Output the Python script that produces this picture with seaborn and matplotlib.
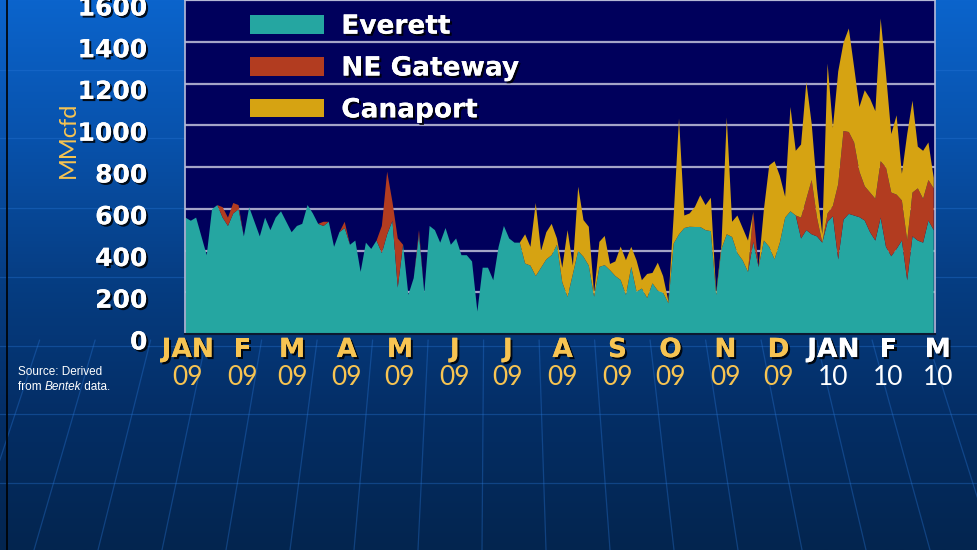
import numpy as np
import pandas as pd
import seaborn as sns
import matplotlib.pyplot as plt
import matplotlib.patheffects as pe
from matplotlib.colors import LinearSegmentedColormap
from matplotlib.transforms import ScaledTranslation, blended_transform_factory

# daily LNG sendout (MMcfd), read every 3 days from 1 Jan 2009
everett = [
    560, 545, 560, 470, 380, 600, 620, 560, 520, 580,
    600, 470, 610, 540, 470, 560, 500, 560, 590, 540,
    490, 520, 530, 620, 580, 530, 520, 540, 420, 490,
    510, 430, 450, 300, 440, 410, 450, 390, 480, 545,
    225, 430, 190, 270, 480, 200, 520, 500, 440, 510,
    430, 460, 380, 380, 350, 110, 320, 320, 260, 420,
    520, 460, 440, 440, 340, 330, 280, 320, 360, 380,
    430, 250, 180, 290, 400, 372, 330, 181, 324, 332,
    308, 280, 261, 190, 324, 205, 220, 175, 245, 210,
    200, 150, 436, 480, 510, 516, 515, 515, 500, 495,
    190, 410, 480, 467, 390, 355, 300, 443, 323, 450,
    420, 360, 440, 560, 590, 570, 460, 500, 480, 470,
    440, 540, 566, 360, 550, 578, 570, 562, 546, 490,
    450, 560, 420, 375, 410, 450, 260, 470, 450, 440,
    546, 500,
]
ne_gateway = [
    0, 0, 0, 0, 0, 0, 0, 50, 40, 50,
    20, 0, 0, 0, 0, 0, 0, 0, 0, 0,
    0, 0, 0, 0, 0, 0, 20, 0, 0, 0,
    30, 0, 0, 0, 0, 0, 0, 130, 300, 90,
    235, 0, 0, 0, 20, 0, 0, 0, 0, 0,
    0, 0, 0, 0, 0, 0, 0, 0, 0, 0,
    0, 0, 0, 0, 0, 0, 0, 0, 0, 0,
    0, 0, 0, 0, 0, 0, 0, 0, 0, 0,
    0, 0, 0, 0, 0, 0, 0, 0, 0, 0,
    0, 0, 0, 0, 0, 0, 0, 0, 0, 0,
    0, 0, 0, 0, 0, 0, 0, 144, 0, 0,
    0, 0, 0, 0, 0, 0, 100, 150, 260, 90,
    0, 40, 50, 360, 425, 392, 350, 218, 164, 190,
    200, 270, 380, 305, 260, 192, 190, 210, 250, 210,
    194, 200,
]
canaport = [
    0, 0, 0, 0, 0, 0, 0, 0, 0, 0,
    0, 0, 0, 0, 0, 0, 0, 0, 0, 0,
    0, 0, 0, 0, 0, 0, 0, 0, 0, 0,
    0, 0, 0, 0, 0, 0, 0, 0, 0, 0,
    0, 0, 0, 0, 0, 0, 0, 0, 0, 0,
    0, 0, 0, 0, 0, 0, 0, 0, 0, 0,
    0, 0, 0, 0, 140, 90, 350, 80, 130, 150,
    30, 70, 320, 40, 308, 176, 186, 16, 120, 140,
    30, 70, 160, 166, 96, 150, 40, 115, 50, 134,
    80, 10, 136, 555, 60, 64, 96, 152, 120, 160,
    10, 20, 560, 73, 180, 155, 150, 0, 0, 150,
    390, 470, 320, 100, 500, 310, 350, 560, 270, 140,
    40, 718, 374, 540, 423, 496, 360, 310, 460, 450,
    420, 684, 450, 280, 380, 128, 510, 440, 200, 230,
    180, 50,
]
series_names = ["Everett", "NE Gateway", "Canaport"]
month_letters = ["JAN", "F", "M", "A", "M", "J", "J", "A", "S", "O", "N", "D", "JAN", "F", "M"]
year_labels = ["09"] * 12 + ["10"] * 3
y_ticks = [0, 200, 400, 600, 800, 1000, 1200, 1400, 1600]

dates = pd.date_range("2009-01-01", periods=len(everett), freq="3D")
month_starts = pd.date_range("2009-01-01", "2010-03-01", freq="MS")

colors = ["#25a6a1", "#b23c20", "#d6a312"]
gold_txt = "#f7c452"

sns.set_theme(style="dark")
plt.rcParams["font.family"] = ["DejaVu Sans"]

fig = plt.figure(figsize=(9.77, 5.5), dpi=100)

# background gradient + faint globe grid
bg = fig.add_axes([0, 0, 1, 1], zorder=-10)
cmap = LinearSegmentedColormap.from_list("bg", ["#0b64cc", "#0852ac", "#063e84", "#042e66", "#03254f"])
bg.imshow(np.linspace(0, 1, 256).reshape(-1, 1), aspect="auto", cmap=cmap, extent=[0, 977, 550, 0])
for yy in [70, 138, 208, 277, 346, 414, 483]:
    bg.plot([0, 977], [yy, yy], color="#2a78d8", lw=0.9, alpha=0.35)
pole_x, pole_y = 494, -1030
for xb in range(-30, 1100, 64):
    # meridians running toward a far-off pole above the slide
    xt = pole_x + (xb - pole_x) * (340 - pole_y) / (550 - pole_y)
    bg.plot([xt, xb], [340, 550], color="#2a78d8", lw=0.9, alpha=0.35)
bg.plot([7, 7], [0, 550], color="black", lw=1.2)
bg.set_xlim(0, 977)
bg.set_ylim(550, 0)
bg.axis("off")

ax = fig.add_axes([185 / 977, 216 / 550, 750 / 977, 334 / 550])
ax.set_facecolor("#00005c")
ax.stackplot(dates, everett, ne_gateway, canaport, colors=colors, labels=series_names, linewidth=0)

ax.set_xlim(pd.Timestamp("2009-01-01"), pd.Timestamp("2010-03-01"))
ax.set_ylim(0, 1600)
ax.set_yticks(y_ticks)
ax.set_xticks(month_starts)
ax.set_axisbelow(True)
ax.grid(axis="y", color="#a4a4c8", lw=1.6)
ax.grid(axis="x", visible=False)

for side in ["left", "top", "right"]:
    ax.spines[side].set_visible(True)
    ax.spines[side].set_color("#b8bcd8")
    ax.spines[side].set_linewidth(1.2)
ax.spines["bottom"].set_color("#0c1830")
ax.spines["bottom"].set_linewidth(1.5)

ax.tick_params(axis="both", direction="out", length=5, width=1.2, color="#0c1830")
ax.tick_params(axis="x", labelbottom=False)
ax.tick_params(axis="y", pad=22, labelsize=18, labelcolor="white")

shadow = [pe.withSimplePatchShadow(offset=(1.5, -1.5), shadow_rgbFace="black", alpha=0.85), pe.Normal()]
offset = ScaledTranslation(0, -6 / 100, fig.dpi_scale_trans)
for lab in ax.get_yticklabels():
    lab.set_fontweight("bold")
    lab.set_path_effects(shadow)
    lab.set_transform(lab.get_transform() + offset)

# month / year labels under the axis
trans = blended_transform_factory(ax.transData, ax.transAxes)
for d, m, yr in zip(month_starts, month_letters, year_labels):
    col = gold_txt if yr == "09" else "white"
    xx = d + pd.Timedelta(days=1.5)
    ax.text(xx, -0.048, m, transform=trans, ha="center", va="center", fontsize=19,
            fontweight="bold", family=["Liberation Sans Narrow", "DejaVu Sans"], color=col,
            path_effects=shadow, clip_on=False)
    ax.text(xx, -0.13, yr, transform=trans, ha="center", va="center", fontsize=19,
            fontweight="normal", family=["Lato", "DejaVu Sans"], color=col, clip_on=False)

fig.text(68 / 977, 1 - 140 / 550, "MMcfd", rotation=90, ha="center", va="center",
         fontsize=17, fontweight="normal", family=["Lato", "DejaVu Sans"], color=gold_txt)

leg = ax.legend(loc="upper left", bbox_to_anchor=(0.087, 0.959), frameon=False,
                handlelength=2.8, handleheight=0.7, handletextpad=0.65, labelspacing=0.6,
                borderpad=0, borderaxespad=0, prop={"weight": "bold", "size": 19})
for txt in leg.get_texts():
    txt.set_color("white")
    txt.set_path_effects(shadow)

src_font = dict(fontsize=8.5, color="white", family=["Liberation Sans", "DejaVu Sans"], va="center")
fig.text(18 / 977, 1 - 372 / 550, "Source: Derived", **src_font)
src2 = fig.text(18 / 977, 1 - 387 / 550, "from ", **src_font)
fig.canvas.draw()
x_next = src2.get_window_extent().x1 / fig.bbox.width
src3 = fig.text(x_next, 1 - 387 / 550, "Bentek", style="italic", **src_font)
fig.canvas.draw()
x_next = src3.get_window_extent().x1 / fig.bbox.width
fig.text(x_next, 1 - 387 / 550, " data.", **src_font)

fig.savefig("out.png", dpi=100)
